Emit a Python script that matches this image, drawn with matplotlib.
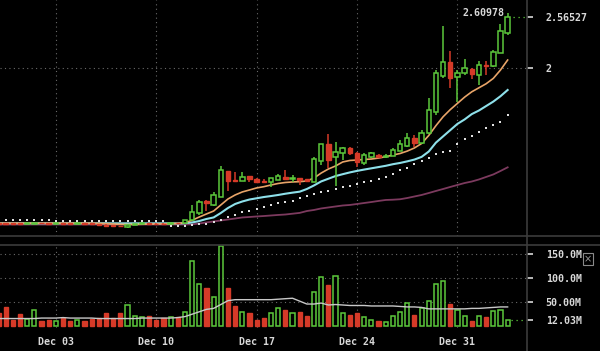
import numpy as np
import pandas as pd
import matplotlib
matplotlib.use("Agg")
import matplotlib.pyplot as plt
import matplotlib.dates as mdates
from matplotlib.lines import Line2D
from matplotlib.ticker import FixedLocator

# ---------------- data (12h candles) ----------------
start = "2017-11-29 00:00"
n_candles = 72

opens = [0.262, 0.258, 0.256, 0.255, 0.250, 0.252, 0.258, 0.256, 0.252, 0.257,
         0.255, 0.251, 0.256, 0.254, 0.250, 0.240, 0.232, 0.224, 0.214, 0.240,
         0.248, 0.254, 0.252, 0.250, 0.246, 0.258, 0.254, 0.293, 0.374, 0.506,
         0.460, 0.554, 0.845, 0.741, 0.733, 0.786, 0.749, 0.733, 0.722, 0.740,
         0.778, 0.749, 0.760, 0.749, 0.722, 0.954, 1.141, 0.995, 1.047, 1.103,
         1.047, 0.928, 1.002, 1.021, 0.996, 1.010, 1.069, 1.122, 1.209, 1.159,
         1.264, 1.507, 1.907, 2.060, 1.892, 1.937, 1.982, 1.918, 2.030, 2.022,
         2.168, 2.392]
highs = [0.266, 0.262, 0.259, 0.258, 0.259, 0.261, 0.261, 0.259, 0.260, 0.260,
         0.258, 0.259, 0.259, 0.257, 0.253, 0.244, 0.236, 0.230, 0.244, 0.252,
         0.258, 0.258, 0.255, 0.254, 0.262, 0.262, 0.296, 0.460, 0.515, 0.517,
         0.610, 0.898, 0.845, 0.834, 0.827, 0.790, 0.763, 0.750, 0.765, 0.808,
         0.853, 0.797, 0.762, 0.755, 0.996, 1.145, 1.253, 1.170, 1.114, 1.114,
         1.058, 1.040, 1.060, 1.030, 1.030, 1.096, 1.190, 1.271, 1.245, 1.300,
         1.657, 1.974, 2.467, 2.187, 1.974, 2.094, 1.993, 2.078, 2.075, 2.200,
         2.490, 2.60978]
lows = [0.248, 0.246, 0.247, 0.246, 0.247, 0.249, 0.251, 0.249, 0.249, 0.250,
        0.248, 0.248, 0.249, 0.246, 0.235, 0.226, 0.218, 0.214, 0.208, 0.236,
        0.244, 0.246, 0.244, 0.243, 0.243, 0.250, 0.252, 0.288, 0.350, 0.397,
        0.450, 0.554, 0.621, 0.720, 0.730, 0.722, 0.707, 0.710, 0.666, 0.738,
        0.745, 0.722, 0.685, 0.720, 0.720, 0.909, 0.872, 0.674, 0.965, 1.021,
        0.883, 0.910, 0.990, 0.990, 0.990, 1.005, 1.065, 1.115, 1.114, 1.150,
        1.260, 1.470, 1.881, 1.769, 1.619, 1.918, 1.870, 1.806, 1.918, 2.010,
        2.160, 2.367]
closes = [0.252, 0.250, 0.250, 0.249, 0.256, 0.258, 0.254, 0.252, 0.257, 0.253,
          0.251, 0.256, 0.252, 0.249, 0.238, 0.230, 0.222, 0.220, 0.240, 0.248,
          0.254, 0.250, 0.248, 0.246, 0.258, 0.254, 0.292, 0.386, 0.498, 0.480,
          0.573, 0.853, 0.733, 0.727, 0.778, 0.749, 0.719, 0.719, 0.760, 0.786,
          0.749, 0.760, 0.741, 0.727, 0.973, 1.141, 0.965, 1.058, 1.096, 1.047,
          0.946, 1.021, 1.040, 0.996, 1.010, 1.077, 1.141, 1.209, 1.159, 1.264,
          1.526, 1.937, 2.060, 1.881, 1.944, 1.993, 1.929, 2.030, 2.019, 2.180,
          2.415, 2.56527]

# volume in millions
volumes = [27, 39, 13, 25, 15, 33, 10, 12, 11, 17,
           10, 13, 10, 15, 17, 27, 18, 27, 45, 21,
           19, 21, 13, 17, 19, 19, 29, 134, 88, 79,
           61, 165, 79, 41, 29, 27, 13, 18, 27, 38,
           33, 27, 29, 21, 71, 102, 86, 104, 27, 23,
           27, 19, 12, 11, 9, 21, 30, 48, 23, 37,
           53, 88, 93, 47, 34, 21, 11, 21, 19, 31,
           34, 12.03]
vol_ma = [16, 16, 16, 16, 16, 16, 17, 17, 17, 18,
          17, 17, 17, 17, 16, 16, 16, 16, 16, 16,
          17, 17, 17, 17, 17, 18, 20, 25, 30, 35,
          37, 45, 53, 55, 55, 55, 55, 55, 55, 56,
          57, 58, 52, 46, 46, 48, 44, 45, 44, 43,
          43, 43, 42, 42, 42, 42, 41, 40, 40, 39,
          36, 36, 36, 36, 36, 36, 37, 37, 38, 39,
          40, 40]

ma_fast = [0.256, 0.256, 0.256, 0.256, 0.256, 0.256, 0.256, 0.256, 0.256, 0.256,
           0.256, 0.256, 0.256, 0.256, 0.254, 0.251, 0.247, 0.243, 0.242, 0.243,
           0.245, 0.247, 0.248, 0.249, 0.252, 0.254, 0.262, 0.290, 0.326, 0.360,
           0.393, 0.461, 0.528, 0.573, 0.607, 0.629, 0.652, 0.666, 0.685, 0.702,
           0.713, 0.719, 0.722, 0.730, 0.763, 0.819, 0.864, 0.898, 0.943, 0.960,
           0.965, 0.971, 0.976, 0.987, 1.002, 1.021, 1.038, 1.065, 1.100, 1.150,
           1.240, 1.350, 1.450, 1.530, 1.600, 1.670, 1.730, 1.775, 1.820, 1.880,
           1.974, 2.086]
ma_mid = [0.256, 0.256, 0.256, 0.256, 0.256, 0.256, 0.256, 0.256, 0.256, 0.256,
          0.256, 0.256, 0.256, 0.256, 0.256, 0.256, 0.255, 0.255, 0.255, 0.255,
          0.255, 0.255, 0.255, 0.255, 0.255, 0.254, 0.256, 0.265, 0.281, 0.304,
          0.321, 0.371, 0.427, 0.472, 0.500, 0.522, 0.536, 0.550, 0.561, 0.573,
          0.587, 0.599, 0.610, 0.640, 0.680, 0.725, 0.755, 0.785, 0.806, 0.826,
          0.843, 0.858, 0.872, 0.886, 0.900, 0.918, 0.932, 0.950, 0.970, 1.000,
          1.060, 1.160, 1.230, 1.300, 1.370, 1.420, 1.480, 1.520, 1.570, 1.620,
          1.680, 1.750]
sar = [0.290, 0.290, 0.289, 0.289, 0.288, 0.288, 0.287, 0.287, 0.286, 0.286,
       0.285, 0.285, 0.285, 0.284, 0.284, 0.283, 0.283, 0.282, 0.282, 0.281,
       0.281, 0.280, 0.280, 0.280, 0.225, 0.225, 0.225, 0.237, 0.242, 0.253,
       0.274, 0.293, 0.323, 0.349, 0.377, 0.397, 0.416, 0.435, 0.455, 0.478,
       0.489, 0.511, 0.536, 0.556, 0.584, 0.601, 0.618, 0.640, 0.659, 0.679,
       0.696, 0.719, 0.735, 0.752, 0.769, 0.808, 0.853, 0.881, 0.920, 0.954,
       0.988, 1.032, 1.055, 1.070, 1.145, 1.206, 1.234, 1.279, 1.321, 1.358,
       1.395, 1.470]
ma_slow = [0.242, 0.242, 0.242, 0.242, 0.242, 0.242, 0.242, 0.242, 0.242, 0.242,
           0.242, 0.242, 0.242, 0.242, 0.242, 0.242, 0.242, 0.242, 0.242, 0.242,
           0.242, 0.242, 0.242, 0.242, 0.242, 0.242, 0.242, 0.244, 0.253, 0.265,
           0.276, 0.287, 0.298, 0.309, 0.321, 0.326, 0.332, 0.337, 0.343, 0.349,
           0.354, 0.363, 0.372, 0.393, 0.405, 0.422, 0.433, 0.444, 0.455, 0.461,
           0.472, 0.483, 0.494, 0.506, 0.517, 0.520, 0.525, 0.539, 0.556, 0.573,
           0.595, 0.618, 0.640, 0.663, 0.685, 0.707, 0.724, 0.747, 0.775, 0.803,
           0.842, 0.883]

date_ticks = ["2017-12-03", "2017-12-10", "2017-12-17", "2017-12-24", "2017-12-31"]
price_ticks = [2]
volume_ticks = [150, 100, 50]
volume_tick_labels = ["150.0M", "100.0M", "50.00M"]

# ---------------- style ----------------
BG = "#000000"
GREEN = "#5cc83c"
RED = "#d63a28"
ORANGE = "#e8a468"
CYAN = "#8ee0ea"
PURPLE = "#7c3a5e"
GRID = "#6a6a6a"
TXT = "#d8d8d8"
SEP = "#3c3c3c"
FONT = "DejaVu Sans Mono"
FS = 7.2

dates = pd.date_range(start, periods=n_candles, freq="12h")
x = mdates.date2num(dates)
o = np.array(opens); h = np.array(highs); l = np.array(lows); c = np.array(closes)
up = c >= o
tick_x = mdates.date2num(pd.to_datetime(date_ticks))

W, H = 600, 351
fig = plt.figure(figsize=(W / 100, H / 100), dpi=100, facecolor=BG)

right_px = 527
ax = fig.add_axes([0, (H - 236) / H, right_px / W, 236 / H], facecolor=BG)
axv = fig.add_axes([0, (H - 327.5) / H, right_px / W, (327.5 - 245) / H],
                   facecolor=BG, sharex=ax)

x0 = x[0] + 0.1045
x1 = x[0] + 36.85
ax.set_xlim(x0, x1)
ax.set_ylim(0.113, 2.759)
axv.set_ylim(-2.5, 168)

dot_style = (0, (1, 3))
# gridlines
for tx in tick_x:
    ax.axvline(tx, color=GRID, lw=0.8, ls=dot_style, zorder=0)
    axv.axvline(tx, color=GRID, lw=0.8, ls=dot_style, zorder=0)
for v in price_ticks:
    ax.axhline(v, color=GRID, lw=0.8, ls=dot_style, zorder=0)
for v in volume_ticks:
    axv.axhline(v, color=GRID, lw=0.8, ls=dot_style, zorder=0)

# moving averages / indicators
ax.plot(x, ma_slow, color=PURPLE, lw=1.3, zorder=2)
ax.plot(x, sar, ls="none", marker="s", ms=2.0, color="#e0e0e0", mew=0, zorder=2)
ax.plot(x, ma_mid, color=CYAN, lw=1.5, zorder=3)
ax.plot(x, ma_fast, color=ORANGE, lw=1.2, zorder=3)

# candles
bw = 0.31
body_lo = np.minimum(o, c)
body_hi = np.maximum(o, c)
wick_col = np.where(up, GREEN, RED)
ax.vlines(x, h, body_hi, colors=wick_col, lw=1.1, zorder=4)
ax.vlines(x, body_lo, l, colors=wick_col, lw=1.1, zorder=4)
heights = np.maximum(body_hi - body_lo, 0.004)
ax.bar(x[up], heights[up], bottom=body_lo[up], width=bw, facecolor=BG,
       edgecolor=GREEN, linewidth=1.1, zorder=5)
ax.bar(x[~up], heights[~up], bottom=body_lo[~up], width=bw, facecolor=RED,
       edgecolor=RED, linewidth=1.0, zorder=5)

# volume bars
vol = np.array(volumes)
axv.bar(x[up], vol[up], width=0.29, facecolor=BG, edgecolor=GREEN, linewidth=1.1, zorder=3)
axv.bar(x[~up], vol[~up], width=0.29, facecolor=RED, edgecolor=RED, linewidth=1.0, zorder=3)
axv.plot(x, vol_ma, color="#c8c8c8", lw=1.0, zorder=4)

# last-value markers
ax.plot([x[-1] + 0.35, x1], [c[-1], c[-1]], color=GREEN, lw=0.9, ls=dot_style, zorder=3)
axv.plot([x[-1] + 0.25, x1], [vol[-1], vol[-1]], color=GREEN, lw=0.9, ls=dot_style, zorder=3)
ax.annotate(f"{h[-1]:.5f}", xy=(x[-1], h[-1]), xytext=(-2.0, 0.5),
            textcoords="offset points", ha="right", va="center",
            color=TXT, fontsize=FS, family=FONT, fontweight="bold")

# axes cosmetics
for a in (ax, axv):
    for s in a.spines.values():
        s.set_visible(False)
    a.yaxis.tick_right()
    a.tick_params(axis="y", colors=TXT, length=4, width=1.2, pad=9.5,
                  labelsize=FS, labelcolor=TXT, direction="out")

ax.set_yticks(price_ticks + [c[-1]])
ax.set_yticklabels([f"{v:g}" for v in price_ticks] + [f"{c[-1]:.5f}"],
                   family=FONT, fontweight="bold")
axv.set_yticks(volume_ticks + [vol[-1]])
axv.set_yticklabels(volume_tick_labels + [f"{vol[-1]:.2f}M"],
                    family=FONT, fontweight="bold")

ax.tick_params(axis="x", bottom=False, labelbottom=False)
axv.xaxis.set_major_locator(FixedLocator(tick_x))
axv.xaxis.set_major_formatter(mdates.DateFormatter("%b %d"))
axv.tick_params(axis="x", length=0, pad=7, labelsize=FS, labelcolor=TXT)
for lab in axv.get_xticklabels():
    lab.set_family(FONT)
    lab.set_fontweight("bold")

# panel separators
fx = right_px / W
fig.add_artist(Line2D([fx, fx], [0, 1], color=SEP, lw=1.2, transform=fig.transFigure))
for yy in (236, 245):
    fig.add_artist(Line2D([0, 1], [(H - yy) / H] * 2, color=SEP, lw=1.2,
                          transform=fig.transFigure))

# close box
fig.text(588 / W, (H - 259) / H, "×", color="#9a9a9a", fontsize=7, ha="center",
         va="center", family="DejaVu Sans",
         bbox=dict(boxstyle="square,pad=0.1", fc=BG, ec="#8a8a8a", lw=0.8))

fig.savefig("out.png", dpi=100, facecolor=BG)
